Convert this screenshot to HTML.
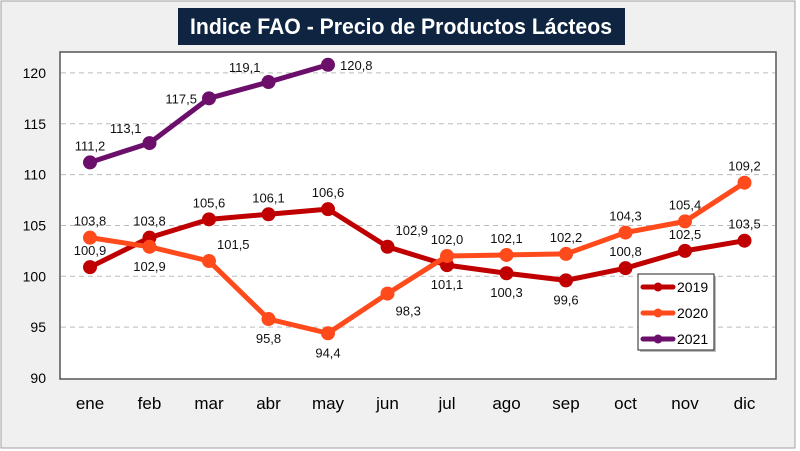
<!DOCTYPE html>
<html><head><meta charset="utf-8"><style>
body{margin:0;background:#fff}
svg{display:block;font-family:"Liberation Sans",sans-serif}
</style></head><body>
<svg id="c" width="800" height="451">
<rect x="1" y="1" width="794" height="447" fill="#f0f0f0" stroke="#a0a0a0"/>
<rect x="178" y="8" width="447" height="37" fill="#0e2441"/>
<text x="401" y="34" text-anchor="middle" fill="#fff" font-size="22" font-weight="bold" textLength="422" lengthAdjust="spacingAndGlyphs">Indice FAO - Precio de Productos Lácteos</text>
<rect x="60" y="52" width="716" height="327" fill="#fff" stroke="#555" stroke-width="1.5"/>
<g id="grid"></g><g id="axes"></g><g id="series"></g>
<g>
<rect x="640" y="276" width="76" height="76" fill="#222" opacity="0.3"/>
<rect x="638" y="274" width="76" height="76" fill="#fff" stroke="#222"/>
<g id="leg"></g>
</g>
</svg>
<script>
const months=["ene","feb","mar","abr","may","jun","jul","ago","sep","oct","nov","dic"];
const yTicks=[90,95,100,105,110,115,120];
const s2019=[100.9,103.8,105.6,106.1,106.6,102.9,101.1,100.3,99.6,100.8,102.5,103.5];
const s2020=[103.8,102.9,101.5,95.8,94.4,98.3,102.0,102.1,102.2,104.3,105.4,109.2];
const s2021=[111.2,113.1,117.5,119.1,120.8];
const names=["2019","2020","2021"];
const colors=["#c00000","#ff4a1c","#6b0f6b"];
// label placement: a=above, b=below, l=left, r=right, al=above-left, ar=above-right, br=below-right
const pl2019=["a","a","a","a","a","ar","b","b","b","a","a","a"];
const pl2020=["a","b","ar","b","b","br","a","a","a","a","a","a"];
const pl2021=["a","al","l","al","r"];
const NS="http://www.w3.org/2000/svg";
const X=i=>90+i*59.5, Y=v=>378-(v-90)*10.17;
function mk(t,a,p){const e=document.createElementNS(NS,t);for(const k in a)e.setAttribute(k,a[k]);(p||document.getElementById('c')).appendChild(e);return e;}
const g=document.getElementById('grid'),ax=document.getElementById('axes'),sg=document.getElementById('series');
yTicks.forEach(v=>{
  if(v>90){const l=mk('line',{x1:61,x2:775,y1:Y(v),y2:Y(v),stroke:'#bbb','stroke-dasharray':'5,4'},g);
  
  }
  const t=mk('text',{x:46,y:Y(v)+5,'text-anchor':'end','font-size':14},ax);t.textContent=v;
  
  
});
months.forEach((m,i)=>{
  const t=mk('text',{x:X(i),y:409,'text-anchor':'middle','font-size':17},ax);t.textContent=m;
  
  
});
const off={a:[0,-12,'middle'],b:[0,24,'middle'],l:[-12,5,'end'],r:[12,5,'start'],al:[-8,-10,'end'],ar:[8,-12,'start'],br:[8,22,'start']};
[[s2019,pl2019],[s2020,pl2020],[s2021,pl2021]].forEach(([d,pl],si)=>{
  const grp=mk('g',{},sg);
  
  
  const p=mk('polyline',{points:d.map((v,i)=>X(i)+','+Y(v)).join(' '),fill:'none',stroke:colors[si],'stroke-width':5,'stroke-linejoin':'round'},grp);
  
  
  d.forEach((v,i)=>{
    const c=mk('circle',{cx:X(i),cy:Y(v),r:7,fill:colors[si]},grp);
    
    
    const o=off[pl[i]];
    const t=mk('text',{x:X(i)+o[0],y:Y(v)+o[1],'text-anchor':o[2],'font-size':13,fill:'#111'},grp);
    t.textContent=v.toFixed(1).replace('.',',');
    
    
  });
});
const lg=document.getElementById('leg');
names.forEach((n,i)=>{
  const y=287+i*26;
  const l=mk('line',{x1:643,x2:673,y1:y,y2:y,stroke:colors[i],'stroke-width':5,'stroke-linecap':'round'},lg);
  
  
  mk('circle',{cx:658,cy:y,r:4.5,fill:colors[i]},lg);
  const t=mk('text',{x:677,y:y+5,'font-size':14},lg);t.textContent=n;
  
  
});
</script>
</body></html>
